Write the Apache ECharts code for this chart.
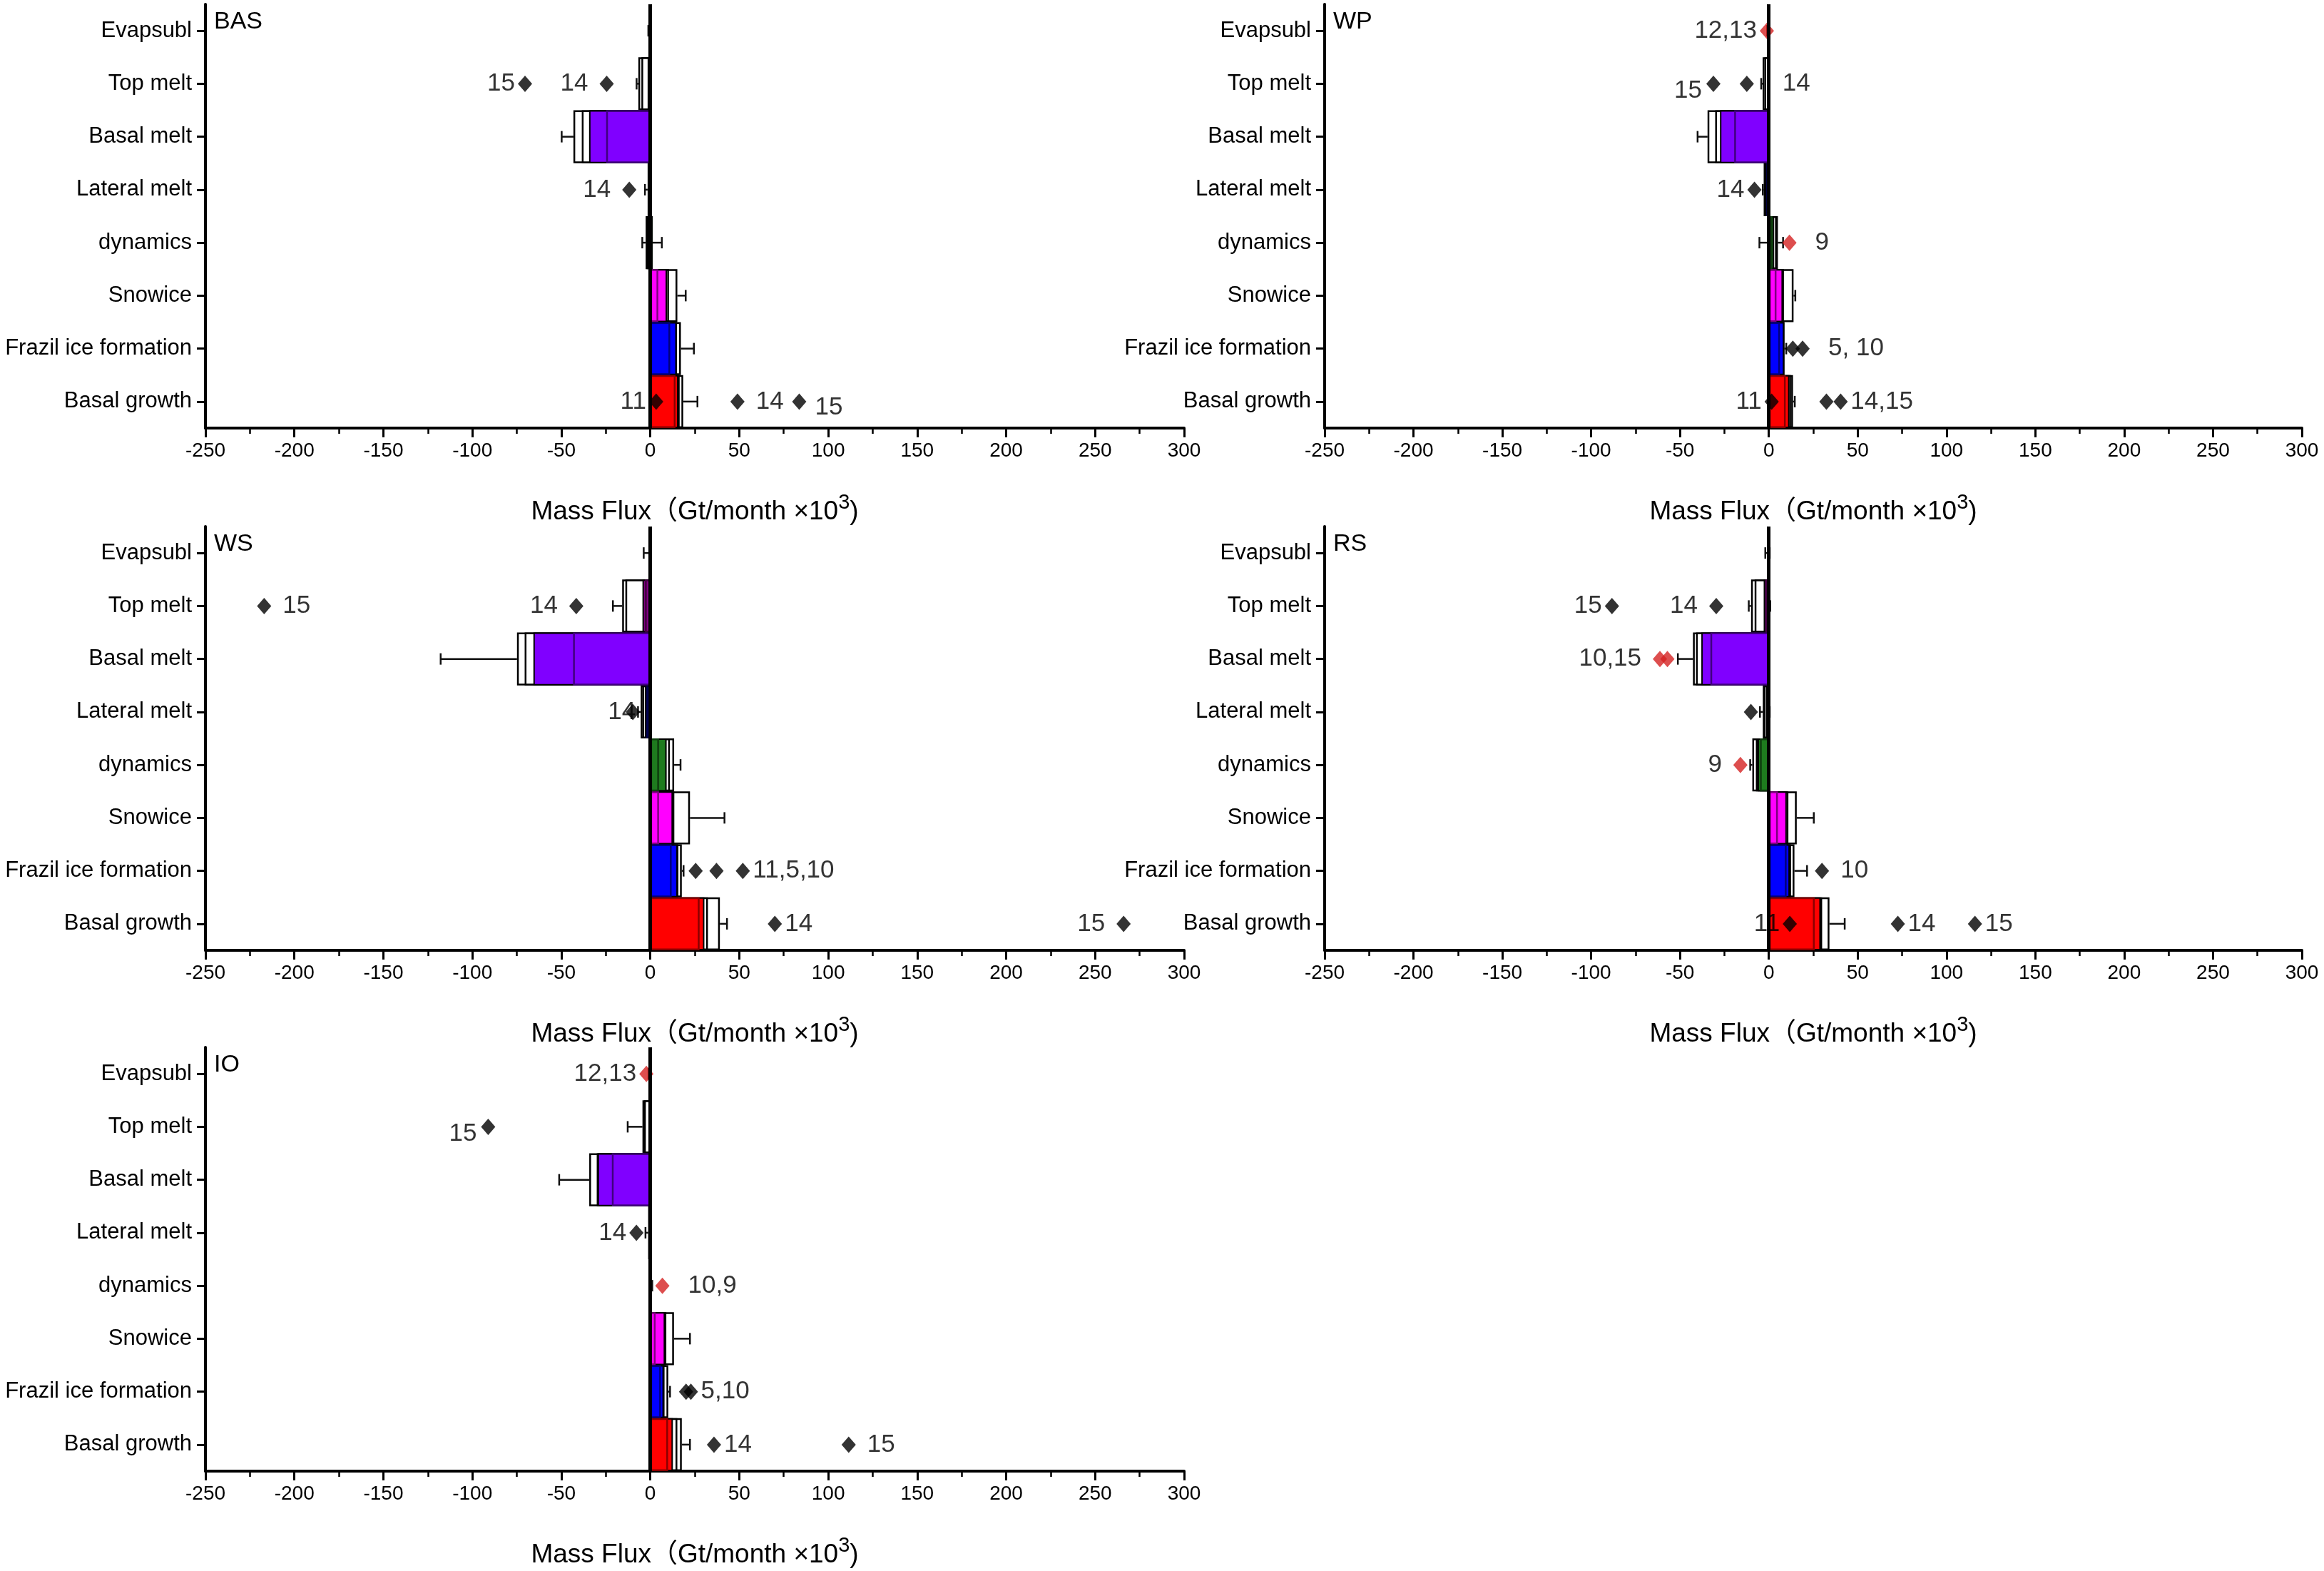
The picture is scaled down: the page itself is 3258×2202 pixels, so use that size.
<!DOCTYPE html>
<html><head><meta charset="utf-8">
<script src="https://cdn.jsdelivr.net/npm/echarts@6/dist/echarts.min.js"></script>
<style>html,body{margin:0;padding:0;background:#fff}#c{width:3258px;height:2202px}</style>
</head><body><div id="c"></div>
<script>
// ---------------- DATA ----------------
const categories = ['Evapsubl','Top melt','Basal melt','Lateral melt','dynamics','Snowice','Frazil ice formation','Basal growth'];
const xMin = -250, xMax = 300, xInterval = 50;
const regions = ['BAS','WP','WS','RS','IO'];
const axisTitle = 'Mass Flux（Gt/month ×10{s|3})';

// outer white bar, its error delta, inner white bar, coloured bar, inner coloured bar, its error delta
const basOuter    = [-0.6, -6.7, -43.2, -1.5, -2.6, 15.2, 17.2, 18.5];
const basErrOuter = [-0.5, -1.0, -6.6, -1.5, -1.9, 4.7, 7.3, 8.0];
const basInner    = [-0.5, -5.0, -38.5, -1.2, -2.0, 10.5, 15.0, 16.5];
const basColor    = [-0.4, -1.5, -34.4, -1.0, 1.4, 9.4, 14.8, 15.8];
const basColorIn  = [-0.3, -1.0, -24.8, -0.8, 1.0, 4.5, 11.2, 14.2];
const basErrIn    = [0.3, 0.5, 11.4, 0.5, 5.5, -1.0, -1.0, -3.0];
const basDiamonds = [[-70.4,1,'15','k'],[-24.5,1,'14','k'],[-11.8,3,'14','k'],[3.3,7,'11','k'],[49,7,'14','k'],[83.7,7,'15','k']];

const wpOuter    = [-0.5, -3.5, -34.5, -2.9, 5.1, 13.9, 8.8, 13.6];
const wpErrOuter = [-0.5, -0.8, -5.6, -0.5, 2.9, 1.0, 1.0, 1.0];
const wpInner    = [-0.4, -2.5, -30.2, -2.5, 4.5, 8.5, 8.7, 12.5];
const wpColor    = [-0.3, -0.8, -27.5, -1.8, 3.0, 7.9, 8.6, 11.6];
const wpColorIn  = [-0.2, -0.5, -19.5, -1.5, 2.0, 4.3, 6.3, 9.5];
const wpErrIn    = [0.2, 0.5, 7.1, 0.5, -7.3, -1.0, 1.0, 1.0];
const wpDiamonds = [[-1.1,0,'12,13','r'],[-31.2,1,'15','k'],[-12.4,1,'14','k'],[-8.1,3,'14','k'],[11.6,4,'9','r'],[13.5,6,'','k'],[19,6,'5, 10','k'],[1.6,7,'11','k'],[32.4,7,'','k'],[40.4,7,'14,15','k']];

const wsOuter    = [-1.0, -15.8, -74.9, -5.4, 13.4, 22.3, 17.7, 39.1];
const wsErrOuter = [-2.7, -5.2, -42.9, -1.5, 3.6, 19.4, 1.0, 4.0];
const wsInner    = [-0.8, -14.0, -70.6, -4.5, 11.0, 13.5, 15.8, 32.4];
const wsColor    = [-0.5, -4.4, -65.7, -3.1, 9.2, 12.7, 15.4, 30.4];
const wsColorIn  = [-0.3, -3.0, -43.4, -2.5, 4.9, 4.9, 12.0, 27.7];
const wsErrIn    = [0.3, 0.5, 13.6, 0.5, -1.0, -2.0, 1.0, -11.3];
const wsDiamonds = [[-41.6,1,'14','k'],[-217,1,'15','k'],[-9.8,3,'14','k'],[25.5,6,'','k'],[37.2,6,'','k'],[52,6,'11,5,10','k'],[70,7,'14','k'],[266,7,'15','k']];

const rsOuter    = [-0.8, -10.0, -42.7, -3.4, -9.3, 15.7, 14.4, 34.1];
const rsErrOuter = [-1.2, -1.3, -8.5, -1.6, -1.2, 9.6, 7.1, 8.6];
const rsInner    = [-0.6, -8.0, -41.0, -2.8, -7.3, 11.0, 12.5, 30.0];
const rsColor    = [-0.4, -2.9, -38.0, -1.5, -6.3, 10.1, 11.8, 29.2];
const rsColorIn  = [-0.3, -2.0, -32.9, -1.0, -5.0, 5.1, 10.0, 25.8];
const rsErrIn    = [0.8, 2.8, 5.0, 1.5, 2.5, -1.0, -1.0, -9.8];
const rsDiamonds = [[-88.3,1,'15','k'],[-29.6,1,'14','k'],[-61.3,2,'10,15','r'],[-57.1,2,'','r'],[-10.1,3,'','k'],[-16,4,'9','r'],[29.9,6,'10','k'],[11.8,7,'11','k'],[72.6,7,'14','k'],[116,7,'15','k']];

const ioOuter    = [-0.5, -4.4, -34.3, -1.2, 0.6, 13.3, 10.1, 17.7];
const ioErrOuter = [-0.5, -8.3, -16.9, -1.5, 0.5, 9.0, 1.0, 4.6];
const ioInner    = [-0.4, -3.5, -30.1, -1.0, 0.5, 9.0, 8.0, 15.2];
const ioColor    = [-0.3, -1.0, -29.6, -0.8, 0.4, 8.3, 7.6, 12.7];
const ioColorIn  = [-0.2, -0.8, -21.6, -0.5, 0.3, 3.0, 6.0, 10.0];
const ioErrIn    = [0.2, 0.5, 11.8, 0.5, -0.3, -1.0, -1.0, -3.0];
const ioDiamonds = [[-2.2,0,'12,13','r'],[-91.1,1,'15','k'],[-7.8,3,'14','k'],[6.8,4,'10,9','r'],[20.1,6,'','k'],[22.8,6,'5,10','k'],[35.8,7,'14','k'],[111.5,7,'15','k']];

// ---------------- LAYOUT / STYLE ----------------
const labelPlace = {
  BAS: ['l','l2','l2','l','r2','rb'],
  WP:  ['l','lb','r4','l','r3','l','r3','l','l','r'],
  WS:  ['l2','r2','lo','l','l','r','r','l2'],
  RS:  ['l','l2','l2','l','l','l2','r2','l','r','r'],
  IO:  ['l','lb','l','r3','l','r','r','r2']
};
const catColors = ['#800000','#800080','#8000FF','#000080','#1E7B1E','#FF00FF','#0000FF','#FF0000'];
const catDark   = ['#400000','#400040','#40007F','#000040','#0F3D0F','#7F007F','#00007F','#8B0000'];
const grids = [
  {left:288, top:6,    width:1372, height:594},
  {left:1857,top:6,    width:1370, height:594},
  {left:288, top:738,  width:1372, height:594},
  {left:1857,top:738,  width:1370, height:594},
  {left:288, top:1468, width:1372, height:594}
];
const panelData = {
  BAS:[basOuter,basErrOuter,basInner,basColor,basColorIn,basErrIn,basDiamonds],
  WP:[wpOuter,wpErrOuter,wpInner,wpColor,wpColorIn,wpErrIn,wpDiamonds],
  WS:[wsOuter,wsErrOuter,wsInner,wsColor,wsColorIn,wsErrIn,wsDiamonds],
  RS:[rsOuter,rsErrOuter,rsInner,rsColor,rsColorIn,rsErrIn,rsDiamonds],
  IO:[ioOuter,ioErrOuter,ioInner,ioColor,ioColorIn,ioErrIn,ioDiamonds]
};
const FONT = 'Liberation Sans, Arial, Noto Sans CJK SC, sans-serif';
const TXT = '#000';
const placeMap = {
  l:{position:'left',distance:4}, r:{position:'right',distance:4},
  l2:{position:'left',distance:16}, r2:{position:'right',distance:16},
  r3:{position:'right',distance:26}, r4:{position:'right',distance:40},
  lb:{position:'left',distance:6,offset:[0,10]}, rb:{position:'right',distance:12,offset:[0,8]},
  lo:{position:'left',distance:-14}
};

function errRender(params, api){
  const a = api.value(0), c = api.value(1), d = api.value(2);
  const s = api.coord([a, c]);
  const e = api.coord([a + d, c]);
  const st = {stroke:'#111', lineWidth:2.5};
  return {type:'group', children:[
    {type:'line', shape:{x1:s[0],y1:s[1],x2:e[0],y2:e[1]}, style:st},
    {type:'line', shape:{x1:e[0],y1:e[1]-8,x2:e[0],y2:e[1]+8}, style:st}
  ]};
}

const xAxes = [], yAxes = [], series = [], graphics = [];
regions.forEach((r, i) => {
  const [outer, errO, inner, color, colorIn, errI, dia] = panelData[r];
  const g = grids[i];
  xAxes.push({
    type:'value', gridIndex:i, min:xMin, max:xMax, interval:xInterval,
    axisLine:{show:true, onZero:false, lineStyle:{color:'#000', width:4}},
    axisTick:{show:true, length:13, lineStyle:{color:'#000', width:3}},
    minorTick:{show:true, splitNumber:2, length:8, lineStyle:{color:'#000', width:2.5}},
    splitLine:{show:false},
    axisLabel:{fontSize:28, color:TXT, margin:18, fontFamily:FONT},
    name:axisTitle, nameLocation:'middle', nameGap:90,
    nameTextStyle:{fontSize:37, color:TXT, fontFamily:FONT,
      rich:{s:{fontSize:29, fontFamily:FONT, color:TXT, padding:[0,0,26,0]}}}
  });
  yAxes.push({
    type:'category', gridIndex:i, data:categories, inverse:true,
    axisLine:{show:true, onZero:false, lineStyle:{color:'#000', width:4}},
    axisTick:{show:true, alignWithLabel:true, length:12, lineStyle:{color:'#000', width:3}},
    axisLabel:{fontSize:31, color:TXT, margin:19, fontFamily:FONT},
    splitLine:{show:false}
  });
  const barBase = {type:'bar', xAxisIndex:i, yAxisIndex:i, barGap:'-100%', barCategoryGap:'0%', silent:true, animation:false};
  series.push(Object.assign({}, barBase, {
    data: outer.map(v=>({value:v})),
    itemStyle:{color:'#fff', borderColor:'#000', borderWidth:2.5}
  }));
  series.push({type:'custom', xAxisIndex:i, yAxisIndex:i, renderItem:errRender, silent:true, animation:false,
    data: outer.map((v,k)=>[v,k,errO[k]]), encode:{x:0,y:1}});
  series.push(Object.assign({}, barBase, {
    data: inner.map(v=>({value:v})),
    itemStyle:{color:'#fff', borderColor:'#000', borderWidth:2.5}
  }));
  series.push(Object.assign({}, barBase, {
    data: color.map((v,k)=>({value:v, itemStyle:{color:catColors[k], borderColor:'#000', borderWidth:2}}))
  }));
  series.push(Object.assign({}, barBase, {
    data: colorIn.map((v,k)=>({value:v, itemStyle:{color:catColors[k], borderColor:catDark[k], borderWidth:2.5}})),
    markLine:{silent:true, symbol:'none', label:{show:false}, animation:false,
      lineStyle:{color:'#000', width:5, type:'solid'}, data:[{xAxis:0}]}
  }));
  series.push({type:'custom', xAxisIndex:i, yAxisIndex:i, renderItem:errRender, silent:true, animation:false,
    data: colorIn.map((v,k)=>[v,k,errI[k]]), encode:{x:0,y:1}});
  series.push({
    type:'scatter', xAxisIndex:i, yAxisIndex:i, symbol:'diamond', symbolSize:[20,23], silent:true, animation:false,
    data: dia.map((d,k)=>{
      const p = placeMap[labelPlace[r][k]];
      return {value:[d[0], d[1]],
        itemStyle:{color: d[3]==='r' ? '#D42222' : '#000'},
        label:Object.assign({show: d[2] !== '', formatter: d[2], fontSize:35, color:TXT, fontFamily:FONT}, p)};
    })
  });
  graphics.push({type:'text', left:g.left + 12, top:g.top + 8,
    style:{text:r, fontSize:34, fill:TXT, font:'34px ' + FONT}});
});

const chart = echarts.init(document.getElementById('c'), null, {renderer:'canvas'});
chart.setOption({
  backgroundColor:'#fff',
  animation:false,
  grid: grids,
  xAxis: xAxes,
  yAxis: yAxes,
  series: series,
  graphic: graphics
});
</script></body></html>
